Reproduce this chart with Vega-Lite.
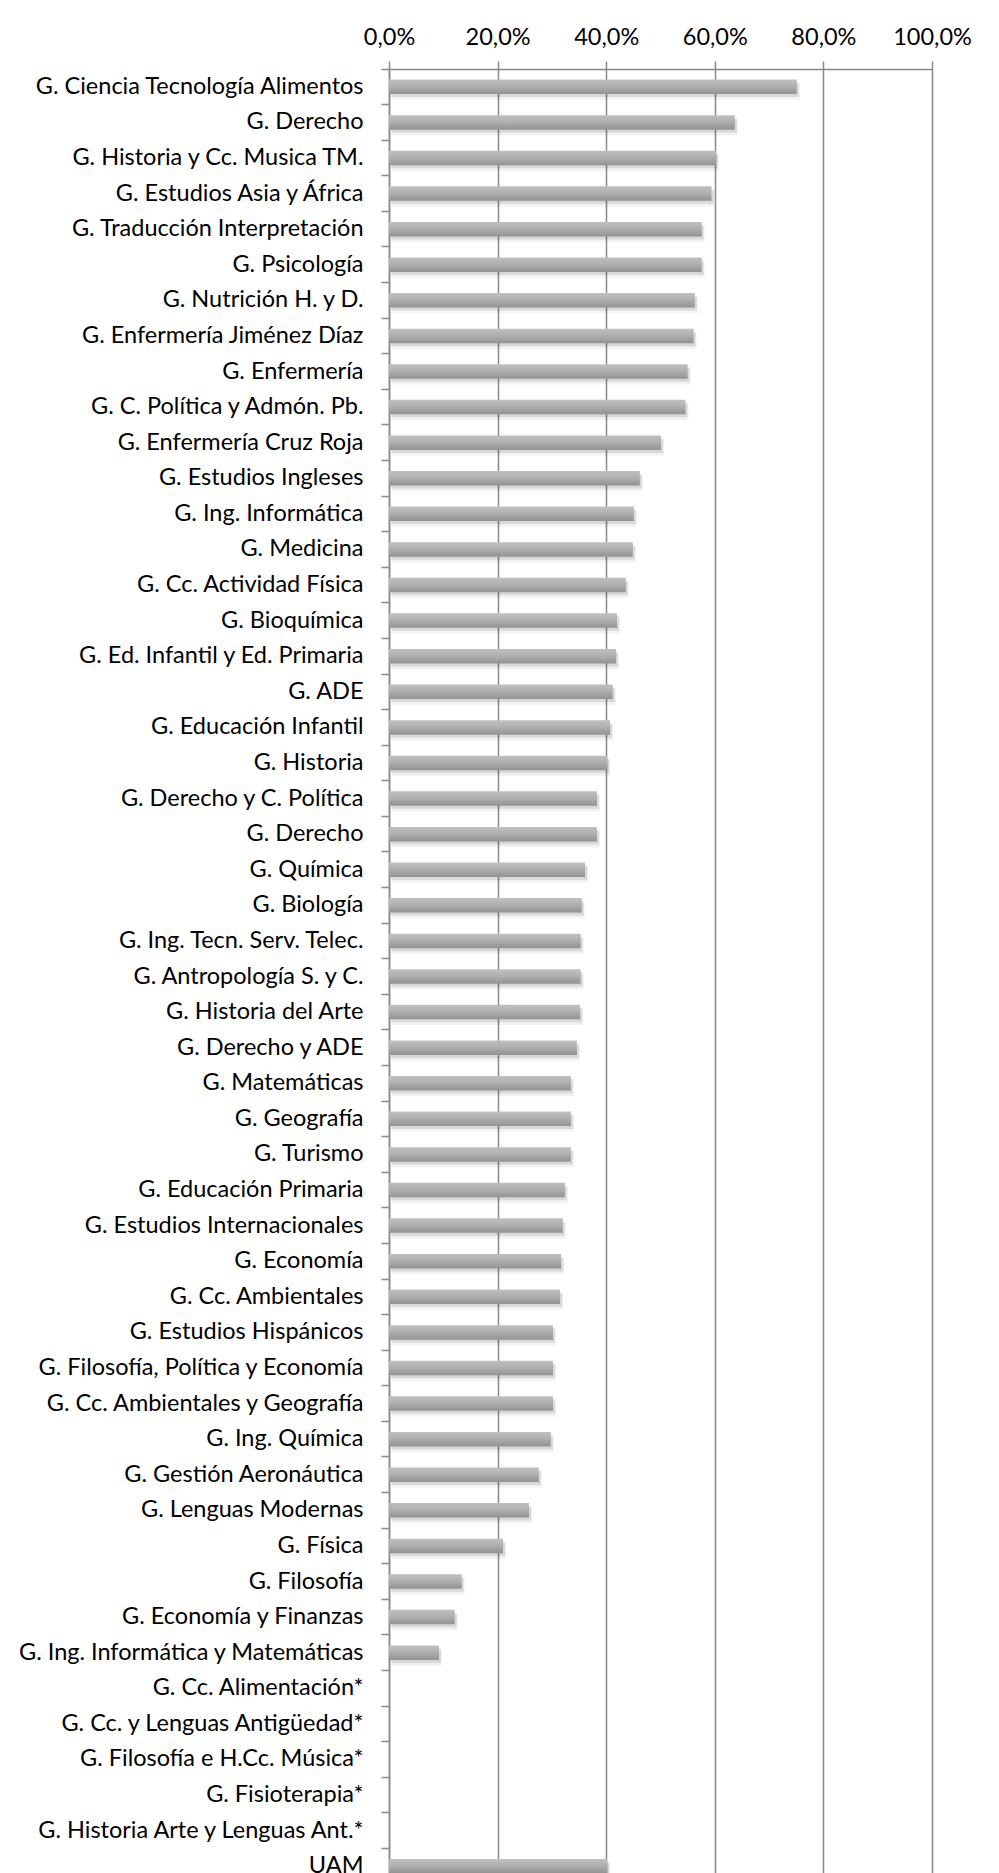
{
  "$schema": "https://vega.github.io/schema/vega-lite/v6.json",
  "autosize": {"type": "none"},
  "padding": {"left": 389, "top": 69, "right": 67, "bottom": 0},
  "width": 543,
  "height": 1804,
  "background": "white",
  "config": {"view": {"stroke": null}, "font": "Lato"},
  "data": {"values": [
    {"key": "01|G. Ciencia Tecnología Alimentos", "value": 0.751},
    {"key": "02|G. Derecho", "value": 0.637},
    {"key": "03|G. Historia y Cc. Musica TM.", "value": 0.602},
    {"key": "04|G. Estudios Asia y África", "value": 0.594},
    {"key": "05|G. Traducción Interpretación", "value": 0.576},
    {"key": "06|G. Psicología", "value": 0.576},
    {"key": "07|G. Nutrición H. y D.", "value": 0.563},
    {"key": "08|G. Enfermería Jiménez Díaz", "value": 0.561},
    {"key": "09|G. Enfermería", "value": 0.550},
    {"key": "10|G. C. Política y Admón. Pb.", "value": 0.546},
    {"key": "11|G. Enfermería Cruz Roja", "value": 0.501},
    {"key": "12|G. Estudios Ingleses", "value": 0.462},
    {"key": "13|G. Ing. Informática", "value": 0.451},
    {"key": "14|G. Medicina", "value": 0.449},
    {"key": "15|G. Cc. Actividad Física", "value": 0.436},
    {"key": "16|G. Bioquímica", "value": 0.420},
    {"key": "17|G. Ed. Infantil y Ed. Primaria", "value": 0.418},
    {"key": "18|G. ADE", "value": 0.412},
    {"key": "19|G. Educación Infantil", "value": 0.407},
    {"key": "20|G. Historia", "value": 0.402},
    {"key": "21|G. Derecho y C. Política", "value": 0.383},
    {"key": "22|G. Derecho", "value": 0.383},
    {"key": "23|G. Química", "value": 0.361},
    {"key": "24|G. Biología", "value": 0.355},
    {"key": "25|G. Ing. Tecn. Serv. Telec.", "value": 0.353},
    {"key": "26|G. Antropología S. y C.", "value": 0.353},
    {"key": "27|G. Historia del Arte", "value": 0.352},
    {"key": "28|G. Derecho y ADE", "value": 0.346},
    {"key": "29|G. Matemáticas", "value": 0.335},
    {"key": "30|G. Geografía", "value": 0.335},
    {"key": "31|G. Turismo", "value": 0.335},
    {"key": "32|G. Educación Primaria", "value": 0.324},
    {"key": "33|G. Estudios Internacionales", "value": 0.320},
    {"key": "34|G. Economía", "value": 0.317},
    {"key": "35|G. Cc. Ambientales", "value": 0.315},
    {"key": "36|G. Estudios Hispánicos", "value": 0.302},
    {"key": "37|G. Filosofía, Política y Economía", "value": 0.302},
    {"key": "38|G. Cc. Ambientales y Geografía", "value": 0.302},
    {"key": "39|G. Ing. Química", "value": 0.298},
    {"key": "40|G. Gestión Aeronáutica", "value": 0.276},
    {"key": "41|G. Lenguas Modernas", "value": 0.258},
    {"key": "42|G. Física", "value": 0.210},
    {"key": "43|G. Filosofía", "value": 0.134},
    {"key": "44|G. Economía y Finanzas", "value": 0.121},
    {"key": "45|G. Ing. Informática y Matemáticas", "value": 0.092},
    {"key": "46|G. Cc. Alimentación*", "value": 0},
    {"key": "47|G. Cc. y Lenguas Antigüedad*", "value": 0},
    {"key": "48|G. Filosofía e H.Cc. Música*", "value": 0},
    {"key": "49|G. Fisioterapia*", "value": 0},
    {"key": "50|G. Historia Arte y Lenguas Ant.*", "value": 0},
    {"key": "51|UAM", "value": 0.402}
  ]},
  "encoding": {
    "y": {
      "field": "key", "type": "nominal", "sort": null,
      "scale": {"range": [0, 1815], "paddingInner": 0, "paddingOuter": 0},
      "axis": {
        "title": null, "bandPosition": 0,
        "labelExpr": "split(datum.label, '|')[1]",
        "labelFont": "Lato", "labelFontSize": 23.5, "labelColor": "#000000",
        "labelPadding": 18, "labelLimit": 400,
        "tickSize": 8, "tickColor": "#898989", "tickWidth": 1.5,
        "domainColor": "#898989", "domainWidth": 1.5, "grid": false
      }
    },
    "x": {
      "field": "value", "type": "quantitative",
      "scale": {"domain": [0, 1], "nice": false},
      "axis": {
        "orient": "top", "title": null,
        "values": [0, 0.2, 0.4, 0.6, 0.8, 1],
        "labelExpr": "replace(format(datum.value, '.1%'), '.', ',')",
        "labelFont": "Lato", "labelFontSize": 23.5, "labelColor": "#000000",
        "labelPadding": 12, "labelFlush": false,
        "tickSize": 8, "tickColor": "#898989", "tickWidth": 1.5,
        "domainColor": "#898989", "domainWidth": 1.5,
        "grid": true, "gridColor": "#898989", "gridWidth": 1.5, "gridOpacity": 1
      }
    }
  },
  "layer": [
    {"mark": {"type": "bar", "size": 16, "yOffset": 5, "xOffset": 3, "color": "#000000", "opacity": 0.05}},
    {"mark": {"type": "bar", "size": 14.5, "yOffset": 3, "xOffset": 2, "color": "#000000", "opacity": 0.1}},
    {"mark": {"type": "bar", "size": 14.5,
      "color": {"gradient": "linear", "x1": 0, "y1": 0, "x2": 0, "y2": 1,
        "stops": [{"offset": 0, "color": "#c0c0c0"}, {"offset": 0.45, "color": "#b0b0b0"}, {"offset": 1, "color": "#929292"}]}}}
  ]
}
